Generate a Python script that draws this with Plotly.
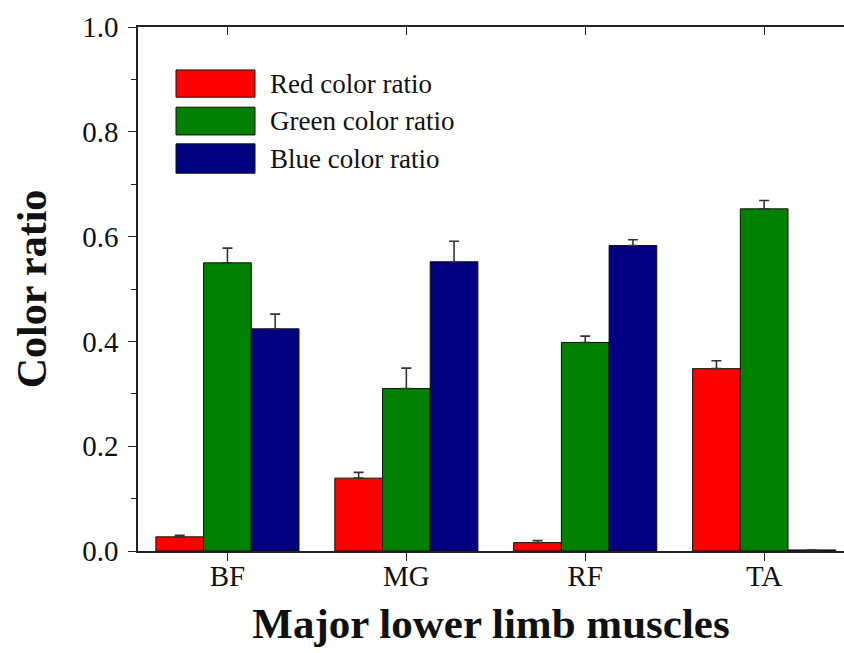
import plotly.graph_objects as go

muscles = ["BF", "MG", "RF", "TA"]
red_ratio = [0.027, 0.139, 0.016, 0.348]
red_err = [0.003, 0.011, 0.004, 0.015]
green_ratio = [0.550, 0.310, 0.398, 0.653]
green_err = [0.028, 0.039, 0.012, 0.016]
blue_ratio = [0.424, 0.552, 0.583, 0.002]
blue_err = [0.028, 0.039, 0.011, 0.0]

series_names = ["Red color ratio", "Green color ratio", "Blue color ratio"]
series_colors = ["#FF0000", "#008000", "#000080"]
y_ticks = [0.0, 0.2, 0.4, 0.6, 0.8, 1.0]

FONT = "Liberation Serif, Times New Roman, serif"
AX = "#222222"

fig = go.Figure()
for name, vals, errs, col in zip(series_names, [red_ratio, green_ratio, blue_ratio],
                                 [red_err, green_err, blue_err], series_colors):
    fig.add_trace(go.Bar(
        x=muscles, y=vals, name=name,
        marker=dict(color=col, line=dict(color="#111111", width=1)),
        error_y=dict(type="data", array=errs, arrayminus=[0] * len(errs), symmetric=False,
                     color="#333333", thickness=1.6, width=5),
        showlegend=False,
    ))

# invisible helper trace on the top axis (carries the top frame line and inward ticks)
fig.add_trace(go.Scatter(x=muscles, y=[None] * len(muscles), xaxis="x2", yaxis="y",
                         mode="markers", showlegend=False, hoverinfo="skip"))

W, H = 844, 653
L, R, T, B = 138, 0, 27, 102
plot_w = W - L - R
cat_step = 178.9
x_end = -0.5 + plot_w / cat_step

fig.update_layout(
    width=W, height=H,
    margin=dict(l=L, r=R, t=T, b=B, autoexpand=False),
    plot_bgcolor="white", paper_bgcolor="white",
    barmode="group", bargap=0.2, bargroupgap=0.0,
    font=dict(family=FONT, color="#111111"),
    xaxis=dict(
        range=[-0.5, x_end], showline=True, linecolor=AX, linewidth=1.6,
        mirror=False, ticks="outside", ticklen=8, tickwidth=1.4, tickcolor=AX,
        tickfont=dict(size=29, family=FONT), ticklabelstandoff=-10,
        title=dict(text="<b>Major lower limb muscles</b>", font=dict(size=43, family=FONT), standoff=17),
        showgrid=False, zeroline=False,
    ),
    xaxis2=dict(
        overlaying="x", anchor="y", side="top", type="category",
        categoryorder="array", categoryarray=muscles, range=[-0.5, x_end],
        ticks="inside", ticklen=8, tickwidth=1.4, tickcolor=AX,
        showticklabels=False, showgrid=False, zeroline=False,
        showline=True, linecolor=AX, linewidth=1.6,
    ),
    yaxis=dict(
        range=[0, 1.0], tickvals=y_ticks, ticktext=[f"{v:.1f}" for v in y_ticks],
        showline=True, linecolor=AX, linewidth=1.6, mirror=False,
        ticks="outside", ticklen=8, tickwidth=1.4, tickcolor=AX,
        minor=dict(dtick=0.1, ticks="outside", ticklen=5, tickwidth=1.2, tickcolor=AX, showgrid=False),
        tickfont=dict(size=29, family=FONT), ticklabelstandoff=4,
        title=dict(text="<b>Color ratio</b>", font=dict(size=42, family=FONT), standoff=22),
        showgrid=False, zeroline=False,
    ),
)

# custom legend (large swatches like the original)
sw_x0, sw_x1 = (176 - L) / plot_w, (255 - L) / plot_w
txt_x = (268 - L) / plot_w
rows = [(0.918, 0.866), (0.847, 0.794), (0.777, 0.721)]
for (y1, y0), name, col in zip(rows, series_names, series_colors):
    fig.add_shape(type="rect", xref="paper", yref="paper", x0=sw_x0, x1=sw_x1, y0=y0, y1=y1,
                  fillcolor=col, line=dict(color="#111111", width=1))
    fig.add_annotation(xref="paper", yref="paper", x=txt_x, y=(y0 + y1) / 2, text=name,
                       showarrow=False, xanchor="left", yanchor="middle",
                       font=dict(size=27, family=FONT, color="#111111"))

fig.write_html("out.html", config={"displayModeBar": False},
               post_script="document.body.style.margin='0';document.body.style.overflow='hidden';")
